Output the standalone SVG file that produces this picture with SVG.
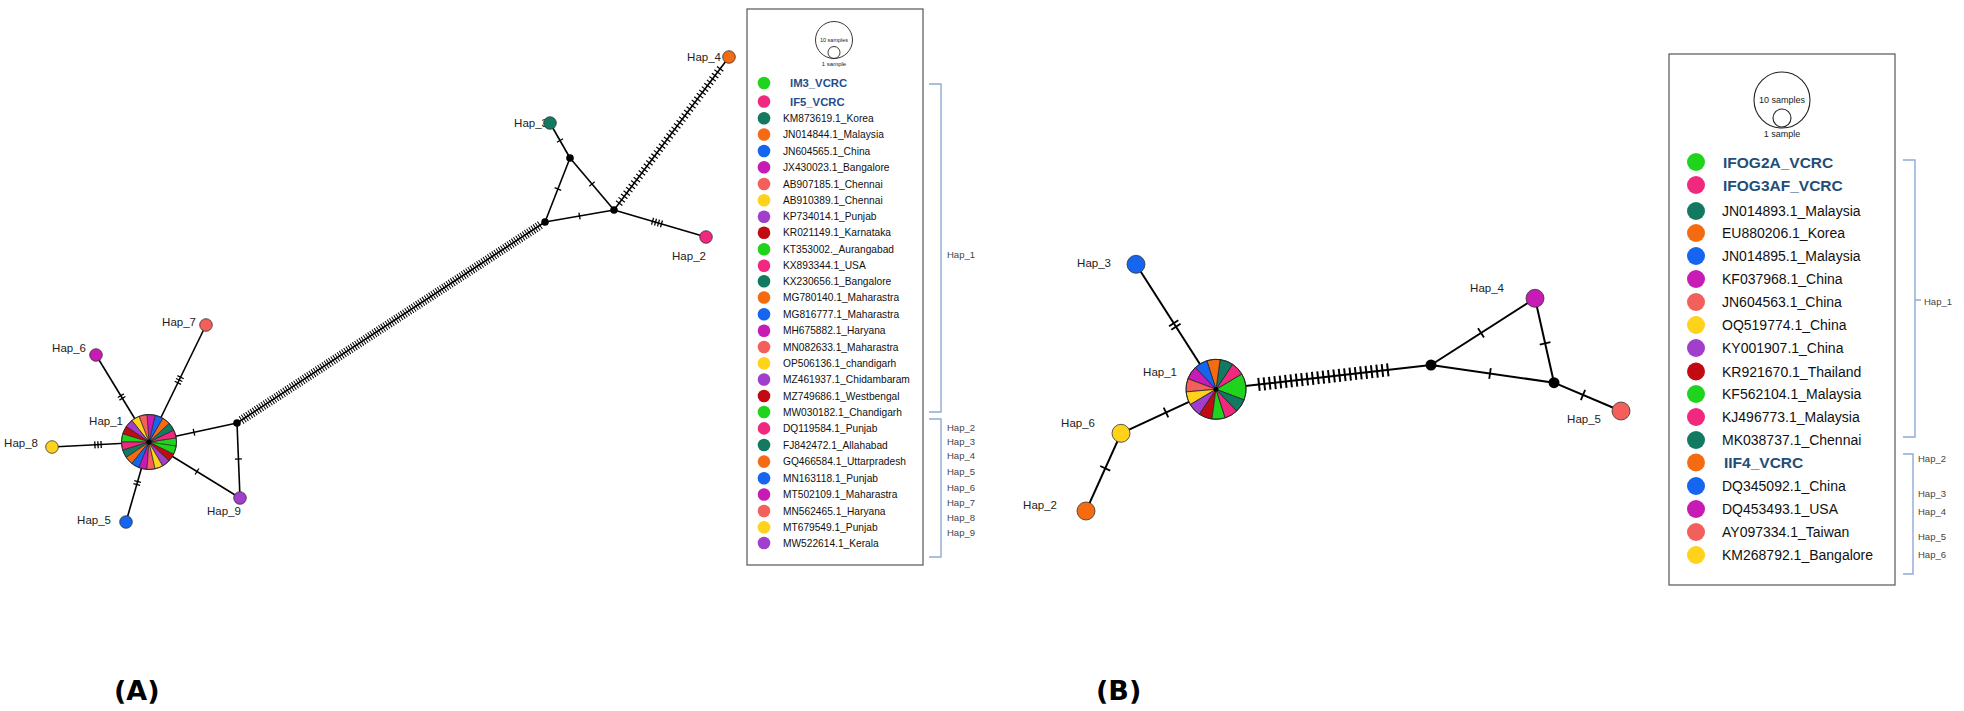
<svg xmlns="http://www.w3.org/2000/svg" xmlns:xlink="http://www.w3.org/1999/xlink" width="1964" height="711" viewBox="0 0 1964 711">
<style>
.cg{fill:#20d41e}.cp{fill:#f0287e}.ct{fill:#137a62}.co{fill:#f46b12}.cb{fill:#1565f0}
.cm{fill:#c81ab4}.cs{fill:#f3605c}.cy{fill:#ffd21c}.cu{fill:#a13fcc}.cr{fill:#c20a12}
.hc{stroke:#333;stroke-width:0.8}
.ed{stroke:#000;stroke-width:1.6;fill:none}
.edb{stroke:#000;stroke-width:2;fill:none}
.ta{stroke:#000;stroke-width:7;stroke-dasharray:1.3 1.8;fill:none}
.tb{stroke:#000;stroke-width:11;stroke-dasharray:1.8 2.4;fill:none}
.hA{stroke:#000;stroke-width:9;stroke-dasharray:1 1.6;fill:none}
.h4{stroke:#000;stroke-width:8;stroke-dasharray:1.2 3;fill:none}
.hB{stroke:#000;stroke-width:13;stroke-dasharray:2 3.4;fill:none}
.jn{fill:#000}
.nl{font-family:"Liberation Sans",Arial,sans-serif;font-size:11.5px;fill:#222}
.la{font-family:"Liberation Sans",Arial,sans-serif;font-size:10.2px;fill:#111}
.lab{font-family:"Liberation Sans",Arial,sans-serif;font-size:11.3px;font-weight:bold;fill:#1f4e8c}
.lb{font-family:"Liberation Sans",Arial,sans-serif;font-size:14px;fill:#111}
.lbb{font-family:"Liberation Sans",Arial,sans-serif;font-size:15.5px;font-weight:bold;fill:#1f4e79}
.hl{font-family:"Liberation Sans",Arial,sans-serif;font-size:9.5px;fill:#444}
.sz{font-family:"Liberation Sans",Arial,sans-serif;fill:#222}
.box{fill:none;stroke:#555;stroke-width:1.2}
.br{fill:none;stroke:#8fa9d6;stroke-width:1.4}
.pl{font-family:"DejaVu Sans",sans-serif;font-size:27px;font-weight:bold;fill:#000}
</style>
<defs>
<path id="sa" d="M0,0 L0,-27.5 A27.5,27.5 0 0 1 8.106,-26.278 Z" stroke="#222" stroke-width="0.6"/>
<path id="sb" d="M0,0 L0,-30 A30,30 0 0 1 13.016,-27.029 Z" stroke="#222" stroke-width="0.7"/>
<path id="sb2" d="M0,0 L0,-30 A30,30 0 0 1 23.455,-18.705 Z" stroke="#222" stroke-width="0.7"/>
</defs>
<rect width="1964" height="711" fill="#fff"/>

<!-- Connectors -->
<g id="connectors">
  <!-- Panel A edges -->
  <line class="ed" x1="149" y1="442" x2="96" y2="355"/>
  <line class="ed" x1="149" y1="442" x2="206" y2="325"/>
  <line class="ed" x1="149" y1="442" x2="52" y2="447"/>
  <line class="ed" x1="149" y1="442" x2="126" y2="522"/>
  <line class="ed" x1="149" y1="442" x2="237" y2="423"/>
  <line class="ed" x1="149" y1="442" x2="240" y2="498"/>
  <line class="ed" x1="237" y1="423" x2="240" y2="498"/>
  <line class="ed" x1="237" y1="423" x2="545" y2="222"/>
  <line class="ed" x1="550" y1="123" x2="570" y2="158"/>
  <line class="ed" x1="570" y1="158" x2="545" y2="222"/>
  <line class="ed" x1="570" y1="158" x2="614" y2="210"/>
  <line class="ed" x1="545" y1="222" x2="614" y2="210"/>
  <line class="ed" x1="614" y1="210" x2="706" y2="237"/>
  <line class="ed" x1="614" y1="210" x2="729" y2="57"/>
  <!-- Panel A mutation ticks -->
  <line class="ta" x1="122.74" y1="398.88" x2="120.46" y2="395.12"/>
  <line class="ta" x1="177.56" y1="383.37" x2="180.84" y2="376.63"/>
  <line class="ta" x1="101.75" y1="444.51" x2="94.25" y2="444.89"/>
  <line class="ta" x1="137.81" y1="480.89" x2="136.59" y2="485.11"/>
  <line class="ta" x1="193.36" y1="432.44" x2="194.64" y2="432.16"/>
  <line class="ta" x1="196.45" y1="471.16" x2="197.55" y2="471.84"/>
  <line class="ta" x1="238.37" y1="458.35" x2="238.43" y2="459.65"/>
  <line class="ta" x1="559.68" y1="139.94" x2="560.32" y2="141.06"/>
  <line class="ta" x1="558.14" y1="188.39" x2="557.66" y2="189.61"/>
  <line class="ta" x1="591.58" y1="183.50" x2="592.42" y2="184.50"/>
  <line class="ta" x1="578.86" y1="216.11" x2="580.14" y2="215.89"/>
  <line class="ta" x1="651.92" y1="221.11" x2="662.08" y2="224.09"/>
  <line class="hA" x1="241.19" y1="420.27" x2="540.98" y2="224.62"/>
  <line class="h4" x1="618.81" y1="203.61" x2="722.18" y2="66.18"/>

  <!-- Panel B edges -->
  <line class="edb" x1="1216" y1="389.3" x2="1136" y2="264.3"/>
  <line class="edb" x1="1216" y1="389.3" x2="1121" y2="433.3"/>
  <line class="edb" x1="1121" y1="433.3" x2="1086" y2="511"/>
  <line class="edb" x1="1216" y1="389.3" x2="1431" y2="365"/>
  <line class="edb" x1="1431" y1="365" x2="1535" y2="298.3"/>
  <line class="edb" x1="1431" y1="365" x2="1554" y2="382.7"/>
  <line class="edb" x1="1535" y1="298.3" x2="1554" y2="382.7"/>
  <line class="edb" x1="1554" y1="382.7" x2="1621" y2="411"/>
  <!-- Panel B mutation ticks -->
  <line class="tb" x1="1176.42" y1="327.53" x2="1173.18" y2="322.47"/>
  <line class="tb" x1="1166.82" y1="412.12" x2="1165.18" y2="412.88"/>
  <line class="tb" x1="1105.57" y1="467.48" x2="1104.83" y2="469.12"/>
  <line class="tb" x1="1480.24" y1="333.39" x2="1481.76" y2="332.41"/>
  <line class="tb" x1="1489.11" y1="373.37" x2="1490.89" y2="373.63"/>
  <line class="tb" x1="1544.90" y1="342.42" x2="1545.30" y2="344.18"/>
  <line class="tb" x1="1582.17" y1="394.65" x2="1583.83" y2="395.35"/>
  <line class="hB" x1="1258" y1="384.55" x2="1392" y2="369.41"/>
</g>

<!-- Panel A nodes -->
<g id="A-hap1">
  <g transform="translate(149 442)">
    <use href="#sa" class="cg" transform="rotate(81.43)"/>
    <use href="#sa" class="cp" transform="rotate(64.29)"/>
    <use href="#sa" class="ct" transform="rotate(47.14)"/>
    <use href="#sa" class="co" transform="rotate(30)"/>
    <use href="#sa" class="cb" transform="rotate(12.86)"/>
    <use href="#sa" class="cm" transform="rotate(-4.29)"/>
    <use href="#sa" class="cs" transform="rotate(-21.43)"/>
    <use href="#sa" class="cy" transform="rotate(-38.57)"/>
    <use href="#sa" class="cu" transform="rotate(-55.71)"/>
    <use href="#sa" class="cr" transform="rotate(-72.86)"/>
    <use href="#sa" class="cg" transform="rotate(-90)"/>
    <use href="#sa" class="cp" transform="rotate(-107.14)"/>
    <use href="#sa" class="ct" transform="rotate(-124.29)"/>
    <use href="#sa" class="co" transform="rotate(-141.43)"/>
    <use href="#sa" class="cb" transform="rotate(-158.57)"/>
    <use href="#sa" class="cm" transform="rotate(-175.71)"/>
    <use href="#sa" class="cs" transform="rotate(-192.86)"/>
    <use href="#sa" class="cy" transform="rotate(-210)"/>
    <use href="#sa" class="cu" transform="rotate(-227.14)"/>
    <use href="#sa" class="cr" transform="rotate(-244.29)"/>
    <use href="#sa" class="cg" transform="rotate(-261.43)"/>
    <circle r="27.5" fill="none" stroke="#222" stroke-width="0.8"/>
    <circle r="2.6" class="jn"/>
  </g>
  <text class="nl" x="123" y="425" text-anchor="end">Hap_1</text>
</g>
<g id="A-hap2"><circle class="hc cp" cx="706" cy="237" r="6.3"/><text class="nl" x="689" y="260" text-anchor="middle">Hap_2</text></g>
<g id="A-hap3"><text class="nl" x="548" y="127" text-anchor="end">Hap_3</text><circle class="hc ct" cx="550" cy="123" r="6.3"/></g>
<g id="A-hap4"><circle class="hc co" cx="729" cy="57" r="6.3"/><text class="nl" x="721" y="61" text-anchor="end">Hap_4</text></g>
<g id="A-hap5"><circle class="hc cb" cx="126" cy="522" r="6.3"/><text class="nl" x="111" y="524" text-anchor="end">Hap_5</text></g>
<g id="A-hap6"><circle class="hc cm" cx="96" cy="355" r="6.3"/><text class="nl" x="86" y="352" text-anchor="end">Hap_6</text></g>
<g id="A-hap7"><circle class="hc cs" cx="206" cy="325" r="6.3"/><text class="nl" x="196" y="326" text-anchor="end">Hap_7</text></g>
<g id="A-hap8"><circle class="hc cy" cx="52" cy="447" r="6.3"/><text class="nl" x="38" y="447" text-anchor="end">Hap_8</text></g>
<g id="A-hap9"><circle class="hc cu" cx="240" cy="498" r="6.3"/><text class="nl" x="207" y="515">Hap_9</text></g>
<g id="A-median1"><circle class="jn" cx="237" cy="423" r="3.8"/></g>
<g id="A-median2"><circle class="jn" cx="545" cy="222" r="3.8"/></g>
<g id="A-median3"><circle class="jn" cx="570" cy="158" r="3.8"/></g>
<g id="A-median4"><circle class="jn" cx="614" cy="210" r="3.8"/></g>

<!-- Panel A legend -->
<g id="A-legend">
  <rect class="box" x="747" y="9" width="176" height="556"/>
  <circle cx="834" cy="40" r="18.5" fill="none" stroke="#222" stroke-width="0.9"/>
  <circle cx="834" cy="52.5" r="6" fill="none" stroke="#222" stroke-width="0.9"/>
  <text class="sz" x="834" y="41.5" font-size="5.5" text-anchor="middle">10 samples</text>
  <text class="sz" x="834" y="66" font-size="6" text-anchor="middle">1 sample</text>
  <circle class="cg" cx="764" cy="83" r="6.3"/><text class="lab" x="790" y="87">IM3_VCRC</text>
  <circle class="cp" cx="764" cy="101.5" r="6.3"/><text class="lab" x="790" y="105.5">IF5_VCRC</text>
  <circle class="ct" cx="764" cy="118.3" r="6.3"/><text class="la" x="783" y="121.9">KM873619.1_Korea</text>
  <circle class="co" cx="764" cy="134.5" r="6.3"/><text class="la" x="783" y="138.1">JN014844.1_Malaysia</text>
  <circle class="cb" cx="764" cy="151" r="6.3"/><text class="la" x="783" y="154.6">JN604565.1_China</text>
  <circle class="cm" cx="764" cy="167.3" r="6.3"/><text class="la" x="783" y="170.9">JX430023.1_Bangalore</text>
  <circle class="cs" cx="764" cy="184" r="6.3"/><text class="la" x="783" y="187.6">AB907185.1_Chennai</text>
  <circle class="cy" cx="764" cy="200.3" r="6.3"/><text class="la" x="783" y="203.9">AB910389.1_Chennai</text>
  <circle class="cu" cx="764" cy="216.7" r="6.3"/><text class="la" x="783" y="220.3">KP734014.1_Punjab</text>
  <circle class="cr" cx="764" cy="232.8" r="6.3"/><text class="la" x="783" y="236.4">KR021149.1_Karnataka</text>
  <circle class="cg" cx="764" cy="249.3" r="6.3"/><text class="la" x="783" y="252.9">KT353002._Aurangabad</text>
  <circle class="cp" cx="764" cy="265.7" r="6.3"/><text class="la" x="783" y="269.3">KX893344.1_USA</text>
  <circle class="ct" cx="764" cy="281.3" r="6.3"/><text class="la" x="783" y="284.9">KX230656.1_Bangalore</text>
  <circle class="co" cx="764" cy="297.5" r="6.3"/><text class="la" x="783" y="301.1">MG780140.1_Maharastra</text>
  <circle class="cb" cx="764" cy="314.2" r="6.3"/><text class="la" x="783" y="317.8">MG816777.1_Maharastra</text>
  <circle class="cm" cx="764" cy="330.7" r="6.3"/><text class="la" x="783" y="334.3">MH675882.1_Haryana</text>
  <circle class="cs" cx="764" cy="347" r="6.3"/><text class="la" x="783" y="350.6">MN082633.1_Maharastra</text>
  <circle class="cy" cx="764" cy="363.3" r="6.3"/><text class="la" x="783" y="366.9">OP506136.1_chandigarh</text>
  <circle class="cu" cx="764" cy="379.5" r="6.3"/><text class="la" x="783" y="383.1">MZ461937.1_Chidambaram</text>
  <circle class="cr" cx="764" cy="396" r="6.3"/><text class="la" x="783" y="399.6">MZ749686.1_Westbengal</text>
  <circle class="cg" cx="764" cy="412" r="6.3"/><text class="la" x="783" y="415.6">MW030182.1_Chandigarh</text>
  <circle class="cp" cx="764" cy="428.4" r="6.3"/><text class="la" x="783" y="432">DQ119584.1_Punjab</text>
  <circle class="ct" cx="764" cy="445" r="6.3"/><text class="la" x="783" y="448.6">FJ842472.1_Allahabad</text>
  <circle class="co" cx="764" cy="461.6" r="6.3"/><text class="la" x="783" y="465.2">GQ466584.1_Uttarpradesh</text>
  <circle class="cb" cx="764" cy="478.2" r="6.3"/><text class="la" x="783" y="481.8">MN163118.1_Punjab</text>
  <circle class="cm" cx="764" cy="494.5" r="6.3"/><text class="la" x="783" y="498.1">MT502109.1_Maharastra</text>
  <circle class="cs" cx="764" cy="511" r="6.3"/><text class="la" x="783" y="514.6">MN562465.1_Haryana</text>
  <circle class="cy" cx="764" cy="527.3" r="6.3"/><text class="la" x="783" y="530.9">MT679549.1_Punjab</text>
  <circle class="cu" cx="764" cy="543" r="6.3"/><text class="la" x="783" y="546.6">MW522614.1_Kerala</text>
  <path class="br" d="M929,84 H941 V412 H929"/>
  <path class="br" d="M929,419 H941 V557 H929"/>
  <text class="hl" x="947" y="258">Hap_1</text>
  <text class="hl" x="947" y="431">Hap_2</text>
  <text class="hl" x="947" y="445">Hap_3</text>
  <text class="hl" x="947" y="459">Hap_4</text>
  <text class="hl" x="947" y="475">Hap_5</text>
  <text class="hl" x="947" y="491">Hap_6</text>
  <text class="hl" x="947" y="506">Hap_7</text>
  <text class="hl" x="947" y="521">Hap_8</text>
  <text class="hl" x="947" y="536">Hap_9</text>
</g>

<!-- Panel B nodes -->
<g id="B-hap1">
  <g transform="translate(1216 389.3)">
    <use href="#sb2" class="cg" transform="rotate(59.29)"/>
    <use href="#sb" class="cp" transform="rotate(33.57)"/>
    <use href="#sb" class="ct" transform="rotate(7.86)"/>
    <use href="#sb" class="co" transform="rotate(-17.86)"/>
    <use href="#sb" class="cb" transform="rotate(-43.57)"/>
    <use href="#sb" class="cm" transform="rotate(-69.29)"/>
    <use href="#sb" class="cs" transform="rotate(-95)"/>
    <use href="#sb" class="cy" transform="rotate(-120.71)"/>
    <use href="#sb" class="cu" transform="rotate(-146.43)"/>
    <use href="#sb" class="cr" transform="rotate(-172.14)"/>
    <use href="#sb" class="cg" transform="rotate(-197.86)"/>
    <use href="#sb" class="cp" transform="rotate(-223.57)"/>
    <use href="#sb" class="ct" transform="rotate(-249.29)"/>
    <circle r="30" fill="none" stroke="#222" stroke-width="0.9"/>
    <circle r="2.4" class="jn"/>
  </g>
  <text class="nl" x="1177" y="376" text-anchor="end">Hap_1</text>
</g>
<g id="B-hap2"><circle class="hc co" cx="1086" cy="511" r="9"/><text class="nl" x="1057" y="509" text-anchor="end">Hap_2</text></g>
<g id="B-hap3"><circle class="hc cb" cx="1136" cy="264.3" r="9"/><text class="nl" x="1111" y="267" text-anchor="end">Hap_3</text></g>
<g id="B-hap4"><circle class="hc cm" cx="1535" cy="298.3" r="9"/><text class="nl" x="1504" y="292" text-anchor="end">Hap_4</text></g>
<g id="B-hap5"><circle class="hc cs" cx="1621" cy="411" r="9"/><text class="nl" x="1601" y="423" text-anchor="end">Hap_5</text></g>
<g id="B-hap6"><circle class="hc cy" cx="1121" cy="433.3" r="9"/><text class="nl" x="1095" y="427" text-anchor="end">Hap_6</text></g>
<g id="B-median1"><circle class="jn" cx="1431" cy="365" r="5.5"/></g>
<g id="B-median2"><circle class="jn" cx="1554" cy="382.7" r="5.5"/></g>

<!-- Panel B legend -->
<g id="B-legend">
  <rect class="box" x="1669" y="54" width="226" height="531"/>
  <circle cx="1782" cy="100" r="28" fill="none" stroke="#222" stroke-width="1.1"/>
  <circle cx="1782" cy="118" r="9" fill="none" stroke="#222" stroke-width="1.1"/>
  <text class="sz" x="1782" y="103" font-size="9" text-anchor="middle">10 samples</text>
  <text class="sz" x="1782" y="137" font-size="9" text-anchor="middle">1 sample</text>
  <circle class="cg" cx="1696" cy="162" r="9"/><text class="lbb" x="1723" y="167.5">IFOG2A_VCRC</text>
  <circle class="cp" cx="1696" cy="185" r="9"/><text class="lbb" x="1723" y="190.5">IFOG3AF_VCRC</text>
  <circle class="ct" cx="1696" cy="211" r="9"/><text class="lb" x="1722" y="216">JN014893.1_Malaysia</text>
  <circle class="co" cx="1696" cy="233" r="9"/><text class="lb" x="1722" y="238">EU880206.1_Korea</text>
  <circle class="cb" cx="1696" cy="256" r="9"/><text class="lb" x="1722" y="261">JN014895.1_Malaysia</text>
  <circle class="cm" cx="1696" cy="279" r="9"/><text class="lb" x="1722" y="284">KF037968.1_China</text>
  <circle class="cs" cx="1696" cy="302" r="9"/><text class="lb" x="1722" y="307">JN604563.1_China</text>
  <circle class="cy" cx="1696" cy="325" r="9"/><text class="lb" x="1722" y="330">OQ519774.1_China</text>
  <circle class="cu" cx="1696" cy="348" r="9"/><text class="lb" x="1722" y="353">KY001907.1_China</text>
  <circle class="cr" cx="1696" cy="371.5" r="9"/><text class="lb" x="1722" y="376.5">KR921670.1_Thailand</text>
  <circle class="cg" cx="1696" cy="394" r="9"/><text class="lb" x="1722" y="399">KF562104.1_Malaysia</text>
  <circle class="cp" cx="1696" cy="417" r="9"/><text class="lb" x="1722" y="422">KJ496773.1_Malaysia</text>
  <circle class="ct" cx="1696" cy="440" r="9"/><text class="lb" x="1722" y="445">MK038737.1_Chennai</text>
  <circle class="co" cx="1696" cy="462.5" r="9"/><text class="lbb" x="1724" y="468">IIF4_VCRC</text>
  <circle class="cb" cx="1696" cy="486" r="9"/><text class="lb" x="1722" y="491">DQ345092.1_China</text>
  <circle class="cm" cx="1696" cy="509" r="9"/><text class="lb" x="1722" y="514">DQ453493.1_USA</text>
  <circle class="cs" cx="1696" cy="532" r="9"/><text class="lb" x="1722" y="537">AY097334.1_Taiwan</text>
  <circle class="cy" cx="1696" cy="555" r="9"/><text class="lb" x="1722" y="560">KM268792.1_Bangalore</text>
  <path class="br" d="M1903,160 H1915 V437 H1903 M1915,300 H1921"/>
  <path class="br" d="M1903,454 H1913 V574 H1903"/>
  <text class="hl" x="1924" y="305">Hap_1</text>
  <text class="hl" x="1918" y="462">Hap_2</text>
  <text class="hl" x="1918" y="497">Hap_3</text>
  <text class="hl" x="1918" y="515">Hap_4</text>
  <text class="hl" x="1918" y="540">Hap_5</text>
  <text class="hl" x="1918" y="558">Hap_6</text>
</g>

<!-- Panel labels -->
<text class="pl" x="114" y="700">(A)</text>
<text class="pl" x="1096" y="700">(B)</text>
</svg>
